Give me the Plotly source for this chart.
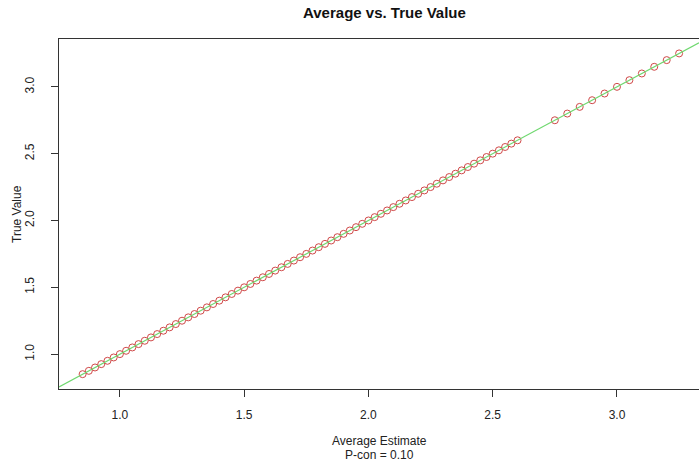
import plotly.graph_objects as go

avg_estimate = [0.850, 0.875, 0.900, 0.925, 0.950, 0.975, 1.000, 1.025, 1.050, 1.075,
                1.100, 1.125, 1.150, 1.175, 1.200, 1.225, 1.250, 1.275, 1.300, 1.325,
                1.350, 1.375, 1.400, 1.425, 1.450, 1.475, 1.500, 1.525, 1.550, 1.575,
                1.600, 1.625, 1.650, 1.675, 1.700, 1.725, 1.750, 1.775, 1.800, 1.825,
                1.850, 1.875, 1.900, 1.925, 1.950, 1.975, 2.000, 2.025, 2.050, 2.075,
                2.100, 2.125, 2.150, 2.175, 2.200, 2.225, 2.250, 2.275, 2.300, 2.325,
                2.350, 2.375, 2.400, 2.425, 2.450, 2.475, 2.500, 2.525, 2.550, 2.575,
                2.600,
                2.750, 2.800, 2.850, 2.900, 2.950, 3.000, 3.050, 3.100, 3.150, 3.200, 3.250]
true_value = [0.850, 0.875, 0.900, 0.925, 0.950, 0.975, 1.000, 1.025, 1.050, 1.075,
              1.100, 1.125, 1.150, 1.175, 1.200, 1.225, 1.250, 1.275, 1.300, 1.325,
              1.350, 1.375, 1.400, 1.425, 1.450, 1.475, 1.500, 1.525, 1.550, 1.575,
              1.600, 1.625, 1.650, 1.675, 1.700, 1.725, 1.750, 1.775, 1.800, 1.825,
              1.850, 1.875, 1.900, 1.925, 1.950, 1.975, 2.000, 2.025, 2.050, 2.075,
              2.100, 2.125, 2.150, 2.175, 2.200, 2.225, 2.250, 2.275, 2.300, 2.325,
              2.350, 2.375, 2.400, 2.425, 2.450, 2.475, 2.500, 2.525, 2.550, 2.575,
              2.600,
              2.750, 2.800, 2.850, 2.900, 2.950, 3.000, 3.050, 3.100, 3.150, 3.200, 3.250]
tick_vals = [1.0, 1.5, 2.0, 2.5, 3.0]
tick_text = ["1.0", "1.5", "2.0", "2.5", "3.0"]
x_range = [0.755, 3.33]
y_range = [0.739, 3.358]

FONT = "Liberation Sans, Arial, sans-serif"

fig = go.Figure()
fig.add_trace(go.Scatter(
    x=avg_estimate, y=true_value, mode="markers",
    marker=dict(symbol="circle-open", size=7, color="#d04848", line=dict(width=1)),
    showlegend=False, hoverinfo="skip"))
# identity reference line (abline(0,1))
fig.add_trace(go.Scatter(
    x=x_range, y=x_range, mode="lines",
    line=dict(color="#6fd86f", width=1.2), showlegend=False, hoverinfo="skip"))

axis_common = dict(showgrid=False, zeroline=False, showline=True, linecolor="#333",
                   linewidth=1, ticks="outside", ticklen=7, tickcolor="#333",
                   tickfont=dict(family=FONT, size=12, color="#222"),
                   tickvals=tick_vals, ticktext=tick_text)
fig.update_xaxes(range=x_range, mirror=True, ticklabelstandoff=8, **axis_common)
fig.update_yaxes(range=y_range, mirror=False, tickangle=-90, ticklabelstandoff=12,
                 **axis_common)

fig.update_layout(
    width=699, height=461, autosize=False,
    margin=dict(l=59, r=0, t=39, b=72),
    plot_bgcolor="white", paper_bgcolor="white",
    font=dict(family=FONT, size=12, color="#222"),
    annotations=[
        dict(text="<b>Average vs. True Value</b>", xref="paper", yref="paper",
             x=0.5, y=1, xshift=5, yshift=37, showarrow=False,
             font=dict(size=15, color="#111")),
        dict(text="Average Estimate", xref="paper", yref="paper", x=0.5, y=0,
             yshift=-61, showarrow=False, font=dict(size=12, color="#222")),
        dict(text="P-con = 0.10", xref="paper", yref="paper", x=0.5, y=0,
             yshift=-75, showarrow=False, font=dict(size=12, color="#222")),
        dict(text="True Value", xref="paper", yref="paper", x=0, y=0.5,
             xshift=-51, textangle=-90, showarrow=False, font=dict(size=12, color="#222")),
    ],
)
fig.write_html("out.html")
